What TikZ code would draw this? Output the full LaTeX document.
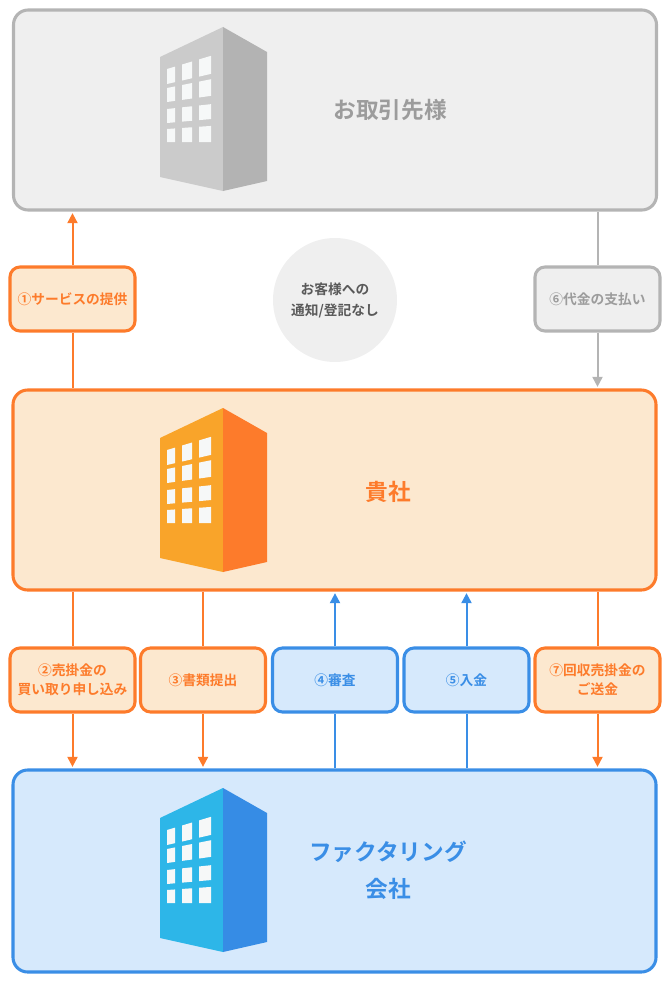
\documentclass[tikz,border=0pt]{standalone}
\usepackage{fontspec}
\setmainfont{Noto Sans CJK JP}[BoldFont={Noto Sans CJK JP Bold}]
\usetikzlibrary{arrows.meta}

\definecolor{grayline}{HTML}{B4B4B4}
\definecolor{grayfill}{HTML}{EFEFEF}
\definecolor{graytext}{HTML}{9C9C9C}
\definecolor{notetext}{HTML}{595959}
\definecolor{orangeline}{HTML}{FD7B2B}
\definecolor{orangefill}{HTML}{FCE8CF}
\definecolor{blueline}{HTML}{3A8EE6}
\definecolor{bluefill}{HTML}{D6E9FC}
\definecolor{grayfront}{HTML}{CBCBCB}
\definecolor{grayside}{HTML}{B3B3B3}
\definecolor{orangefront}{HTML}{F9A42A}
\definecolor{bluefront}{HTML}{2DB6E8}
\definecolor{bluesideb}{HTML}{368CE5}
\definecolor{winwhite}{HTML}{F6F8F8}

% building: top y, front, side, windows
\newcommand\drawbuilding[4]{%
  \begin{scope}[shift={(0,#1)}]
    \fill[#2] (160,30) -- (223,0) -- (223,164) -- (160,150) -- cycle;
    \fill[#3] (223,0) -- (267,25) -- (267,154) -- (223,164) -- cycle;
    \foreach \t/\ts/\b/\bs in {42/-0.30/57/-0.23, 61/-0.2/75/-0.14, 82/-0.11/96/-0.09, 102/-0.07/115/0}
      \foreach \xl/\xr in {167/175,182/192,199/211}
        \fill[#4] ({\xl},{\t+\ts*(\xl-167)}) -- ({\xr},{\t+\ts*(\xr-167)})
          -- ({\xr},{\b+\bs*(\xr-167)}) -- ({\xl},{\b+\bs*(\xl-167)}) -- cycle;
  \end{scope}}

\begin{document}
\begin{tikzpicture}[x=0.75pt,y=-0.75pt,
    bigbox/.style={draw, rounded corners=11pt, line width=2.3pt, minimum width=482.25pt, minimum height=150pt},
    bigtext/.style={font=\fontsize{17}{28}\selectfont\bfseries, align=center},
    stepbox/.style={draw, rounded corners=7.5pt, line width=2.3pt, minimum width=93.75pt, minimum height=48pt,
      inner sep=0pt, align=center, font=\fontsize{10.3}{14.25}\selectfont\bfseries},
    flow/.style={line width=1.5pt},
    flowtip/.style={flow, -{Triangle[width=7.5pt,length=7.5pt]}, shorten >=1.2pt}]
   \useasboundingbox (0,0) rectangle (670,981);
   \node[bigbox, draw=grayline, fill=grayfill] (client) at (335,110) {};
   \node[bigbox, draw=orangeline, fill=orangefill] (self) at (334.5,490) {};
   \node[bigbox, draw=blueline, fill=bluefill, minimum height=151.5pt] (factor) at (334.5,871) {};
   \drawbuilding{27}{grayfront}{grayside}{winwhite}
   \drawbuilding{408}{orangefront}{orangeline}{winwhite}
   \drawbuilding{788}{bluefront}{bluesideb}{winwhite}
   \node[bigtext, text=graytext] (clientname) at (390,110) {お取引先様};
   \node[bigtext, text=orangeline] (selfname) at (388,492) {貴社};
   \node[bigtext, text=blueline] (factorname) at (388,870) {ファクタリング\\会社};
   \node[circle, fill=grayfill, minimum size=93pt, inner sep=0pt, align=center, text=notetext,
     font=\fontsize{10.3}{15.75}\selectfont\bfseries] (note) at (335,300) {お客様への\\通知/登記なし};
   \node[stepbox, draw=orangeline, fill=orangefill, text=orangeline] (s1) at (72.5,299) {①サービスの提供};
   \node[stepbox, draw=grayline, fill=grayfill, text=graytext] (s6) at (597.5,299) {⑥代金の支払い};
   \node[stepbox, draw=orangeline, fill=orangefill, text=orangeline] (s2) at (72.5,680) {②売掛金の\\買い取り申し込み};
   \node[stepbox, draw=orangeline, fill=orangefill, text=orangeline] (s3) at (203,680) {③書類提出};
   \node[stepbox, draw=blueline, fill=bluefill, text=blueline] (s4) at (335,680) {④審査};
   \node[stepbox, draw=blueline, fill=bluefill, text=blueline] (s5) at (466.5,680) {⑤入金};
   \node[stepbox, draw=orangeline, fill=orangefill, text=orangeline] (s7) at (597.5,680) {⑦回収売掛金の\\ご送金};
   % upper flows
   \draw[flow, orangeline] (s1.south |- self.north) -- (s1.south);
   \draw[flowtip, orangeline] (s1.north) -- (s1.north |- client.south);
   \draw[flow, grayline] (s6.north |- client.south) -- (s6.north);
   \draw[flowtip, grayline] (s6.south) -- (s6.south |- self.north);
   % lower flows
   \foreach \s in {s2,s3,s7} {
     \draw[flow, orangeline] (\s.north |- self.south) -- (\s.north);
     \draw[flowtip, orangeline] (\s.south) -- (\s.south |- factor.north);
   }
   \foreach \s in {s4,s5} {
     \draw[flow, blueline] (\s.south |- factor.north) -- (\s.south);
     \draw[flowtip, blueline] (\s.north) -- (\s.north |- self.south);
   }
 \end{tikzpicture}
\end{document}
